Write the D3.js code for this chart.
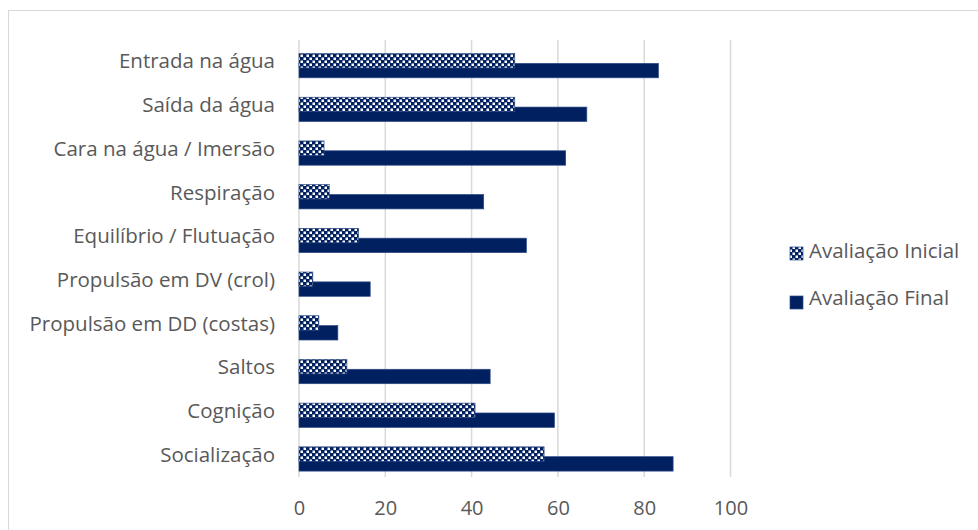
<!DOCTYPE html>
<html>
<head>
<meta charset="utf-8">
<script src="https://cdn.jsdelivr.net/npm/d3@7"></script>
<style>
  body { margin: 0; background: #fff; }
  text { font-family: "Open Sans", sans-serif; }
</style>
</head>
<body>
<svg id="chart" width="978" height="530"></svg>
<script>
// Skill categories (top to bottom)
const categories = [
  "Entrada na água",
  "Saída da água",
  "Cara na água / Imersão",
  "Respiração",
  "Equilíbrio / Flutuação",
  "Propulsão em DV (crol)",
  "Propulsão em DD (costas)",
  "Saltos",
  "Cognição",
  "Socialização"
];
// Series values (%)
const inicial = [50, 50, 5.8, 7, 13.8, 3.2, 4.6, 11.1, 40.8, 56.8];
const final   = [83.3, 66.7, 61.8, 42.8, 52.7, 16.5, 9, 44.3, 59.2, 86.7];
const seriesNames = ["Avaliação Inicial", "Avaliação Final"];
const xTicks = [0, 20, 40, 60, 80, 100];

const navy = "#002060";
const svg = d3.select("#chart");

// chart frame
svg.append("rect")
  .attr("x", 8.5).attr("y", 10.5)
  .attr("width", 980).attr("height", 540)
  .attr("fill", "none").attr("stroke", "#d9d9d9").attr("stroke-width", 1);

// checkerboard pattern for the initial assessment
const defs = svg.append("defs");
const pat = defs.append("pattern")
  .attr("id", "checker").attr("patternUnits", "userSpaceOnUse")
  .attr("width", 6).attr("height", 6);
pat.append("rect").attr("width", 6).attr("height", 6).attr("fill", navy);
pat.append("rect").attr("x", 0.5).attr("y", 0.5).attr("width", 2.5).attr("height", 2.5).attr("fill", "#fff");
pat.append("rect").attr("x", 3.5).attr("y", 3.5).attr("width", 2.5).attr("height", 2.5).attr("fill", "#fff");

const x = d3.scaleLinear().domain([0, 100]).range([299, 730.5]);
const y = d3.scaleBand().domain(categories).range([40, 477]);

// vertical gridlines
svg.append("g").selectAll("line").data(xTicks).join("line")
  .attr("x1", d => x(d)).attr("x2", d => x(d))
  .attr("y1", 40).attr("y2", 477)
  .attr("stroke", "#d9d9d9").attr("stroke-width", 1.5);

// x axis labels
const xAxis = d3.axisBottom(x).tickValues(xTicks).tickSize(0).tickPadding(0);
const gx = svg.append("g").attr("transform", "translate(0,501)").call(xAxis);
gx.select(".domain").remove();
gx.selectAll("text")
  .attr("fill", "#595959").attr("font-size", 20)
  .attr("font-family", "'Open Sans', sans-serif");

// y axis labels
const yAxis = d3.axisLeft(y).tickSize(0).tickPadding(0);
const gy = svg.append("g").attr("transform", "translate(275,0)").call(yAxis);
gy.select(".domain").remove();
gy.selectAll("text")
  .attr("fill", "#595959").attr("font-size", 20.5)
  .attr("font-family", "'Open Sans', sans-serif");

const bw = y.bandwidth();
const barH = bw * 0.33;
const offInit = bw * 0.31;
const offFinal = bw * 0.535;

// final bars (drawn first, partly covered by the initial bars)
svg.append("g").selectAll("rect").data(final).join("rect")
  .attr("x", x(0))
  .attr("y", (d, i) => y(categories[i]) + offFinal)
  .attr("width", d => x(d) - x(0))
  .attr("height", barH)
  .attr("fill", navy).attr("stroke", "#2e4a86").attr("stroke-width", 0.7);

svg.append("g").selectAll("rect").data(inicial).join("rect")
  .attr("x", x(0))
  .attr("y", (d, i) => y(categories[i]) + offInit)
  .attr("width", d => x(d) - x(0))
  .attr("height", barH)
  .attr("fill", "url(#checker)").attr("stroke", "#2e4a86").attr("stroke-width", 0.7);

// legend
const legend = svg.append("g");
const legY = [247, 296];
const legTextY = [258, 305];
seriesNames.forEach((name, i) => {
  legend.append("rect")
    .attr("x", 790).attr("y", legY[i])
    .attr("width", 13).attr("height", 13)
    .attr("fill", i === 0 ? "url(#checker)" : navy)
    .attr("stroke", "#2e4a86").attr("stroke-width", 0.7);
  legend.append("text")
    .attr("x", 809).attr("y", legTextY[i])
    .attr("fill", "#595959").attr("font-size", 20.5)
    .text(name);
});
</script>
</body>
</html>
